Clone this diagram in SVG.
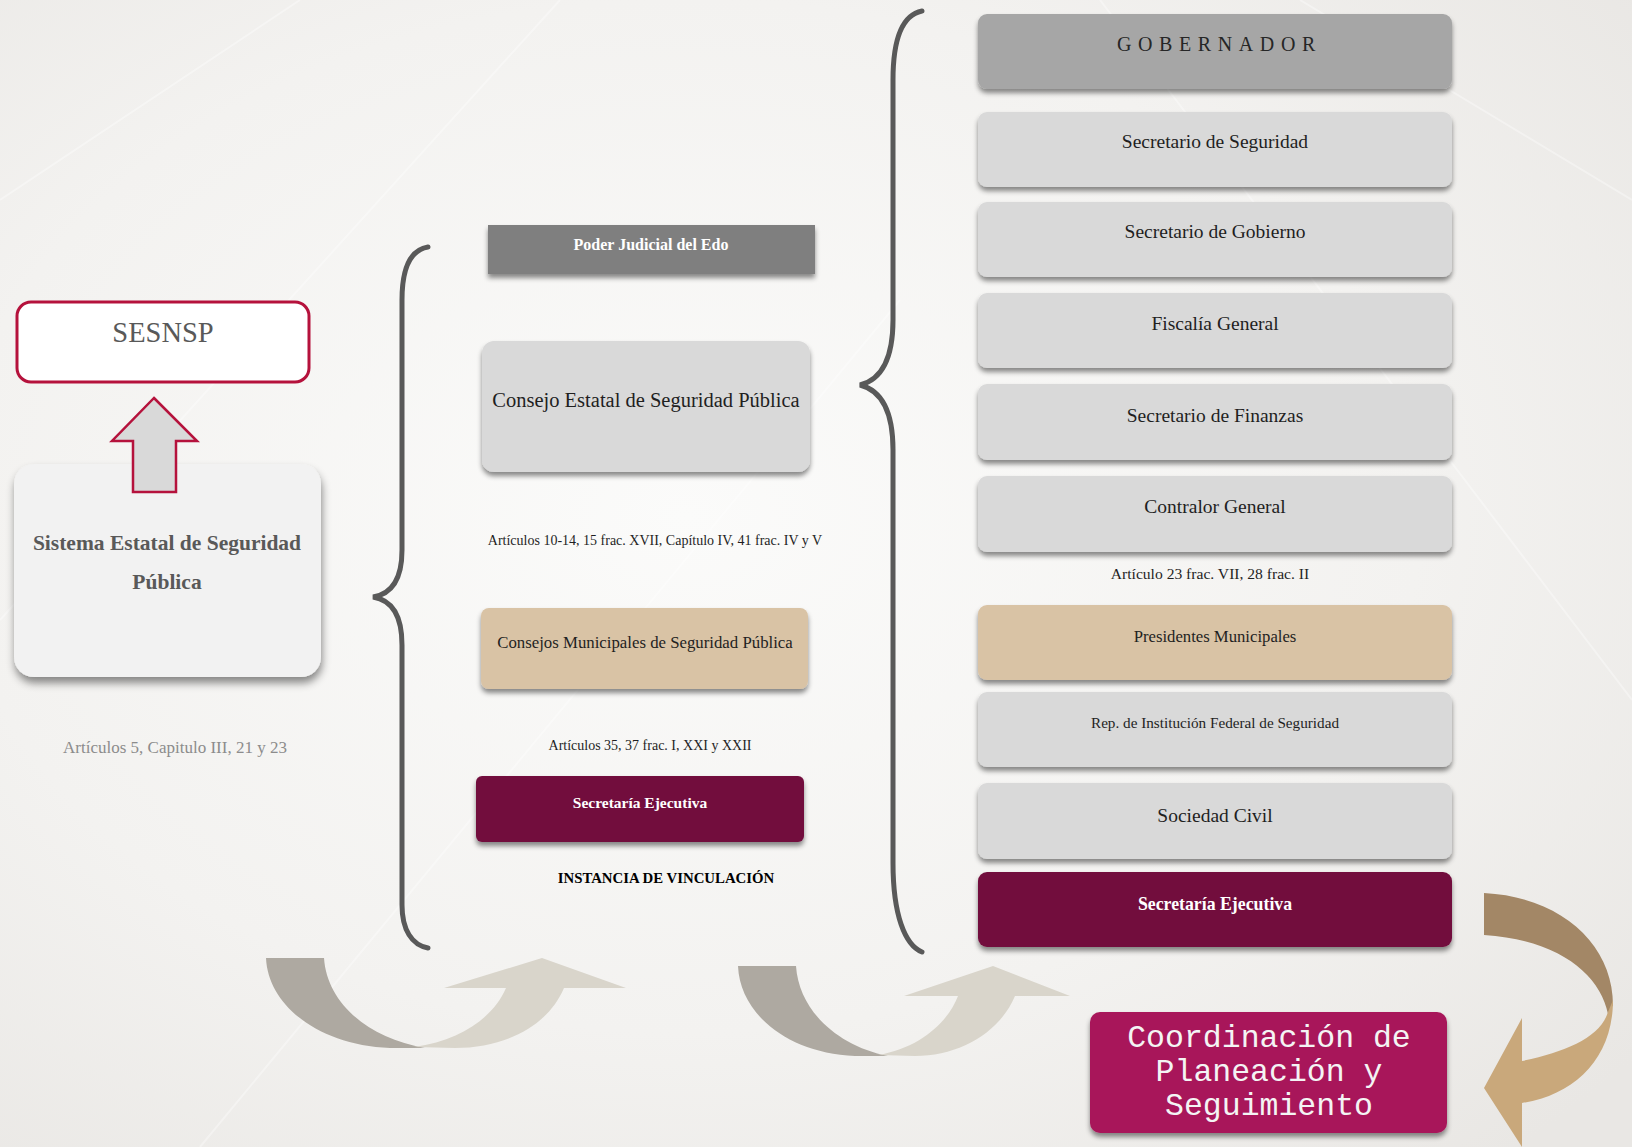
<svg xmlns="http://www.w3.org/2000/svg" width="1632" height="1147" viewBox="0 0 1632 1147">
  <defs>
    <radialGradient id="bg" cx="0.42" cy="0.45" r="0.75">
      <stop offset="0" stop-color="#fbfbfa"/>
      <stop offset="0.6" stop-color="#f3f2f0"/>
      <stop offset="1" stop-color="#e9e7e4"/>
    </radialGradient>
    <filter id="sh" x="-10%" y="-20%" width="120%" height="150%">
      <feDropShadow dx="0" dy="4" stdDeviation="2.5" flood-color="#000" flood-opacity="0.45"/>
    </filter>
    <filter id="shb" x="-10%" y="-10%" width="125%" height="125%">
      <feDropShadow dx="1" dy="6" stdDeviation="4" flood-color="#000" flood-opacity="0.45"/>
    </filter>
    <style>
      .t { font-family: "Liberation Serif", "Times New Roman", serif; fill: #1f1f1f; text-anchor: middle; }
      .b { font-weight: bold; }
      .w { fill: #ffffff; }
      .grey { fill: #d9d9d9; }
      .tan { fill: #d9c3a5; }
      .maroon { fill: #72103e; }
      .brace { fill: none; stroke: #595959; stroke-width: 5; stroke-linecap: round; }
      .mono { font-family: "Liberation Mono", "Courier New", monospace; fill: #f4f4f4; font-size: 31.5px; text-anchor: middle; }
    </style>
  </defs>

  <rect x="0" y="0" width="1632" height="1147" fill="url(#bg)"/>
  <g opacity="0.35" fill="none" stroke="#ffffff" stroke-width="2">
    <path d="M0,200 L300,0 M0,620 L560,0 M200,1147 L900,300 M1632,200 L1300,0 M1632,700 L1100,0"/>
  </g>

  <!-- Left column -->
  <g id="sesnsp">
    <rect x="17" y="302" width="292" height="80" rx="14" fill="#ffffff" stroke="#b5123c" stroke-width="3"/>
    <text class="t" x="163" y="342" font-size="28.5" fill="#595959" style="fill:#595959">SESNSP</text>
  </g>

  <g id="sistema">
    <rect x="14" y="464" width="307" height="213" rx="20" fill="#f2f2f2" filter="url(#shb)"/>
    <text class="t b" x="167" y="550" font-size="21.5" style="fill:#595959">Sistema Estatal de Seguridad</text>
    <text class="t b" x="167" y="589" font-size="21.5" style="fill:#595959">Pública</text>
  </g>

  <g id="up-arrow">
    <path d="M154,398 L197,441 L176,441 L176,492 L133,492 L133,441 L112,441 Z" fill="#d9d9d9" stroke="#b5123c" stroke-width="2.5" stroke-linejoin="miter"/>
  </g>

  <text id="art-left" class="t" x="175" y="753" font-size="17" style="fill:#8c8c8c">Artículos 5, Capitulo III, 21 y 23</text>

  <!-- Middle column -->
  <g id="poder-judicial">
    <rect x="488" y="225" width="327" height="49" fill="#7f7f7f" filter="url(#sh)"/>
    <text class="t b w" x="651" y="250" font-size="16">Poder Judicial del Edo</text>
  </g>

  <g id="consejo-estatal">
    <rect class="grey" x="482" y="341" width="328" height="131" rx="12" filter="url(#sh)"/>
    <text class="t" x="646" y="407" font-size="20.5">Consejo Estatal de Seguridad Pública</text>
  </g>

  <text id="art-mid-1" class="t" x="655" y="545" font-size="14">Artículos 10-14, 15 frac. XVII, Capítulo IV, 41 frac. IV y V</text>

  <g id="consejos-municipales">
    <rect class="tan" x="481" y="608" width="327" height="81" rx="8" filter="url(#sh)"/>
    <text class="t" x="645" y="648" font-size="16.8">Consejos Municipales de Seguridad Pública</text>
  </g>

  <text id="art-mid-2" class="t" x="650" y="750" font-size="14">Artículos 35, 37 frac. I, XXI y XXII</text>

  <g id="sec-ejecutiva-mid">
    <rect class="maroon" x="476" y="776" width="328" height="66" rx="6" filter="url(#sh)"/>
    <text class="t b w" x="640" y="808" font-size="15.5">Secretaría Ejecutiva</text>
  </g>

  <text id="instancia" class="t b" x="666" y="883" font-size="14.8" style="fill:#000">INSTANCIA DE VINCULACIÓN</text>

  <!-- Right column -->
  <g id="gobernador">
    <rect x="978" y="14" width="474" height="75" rx="9" fill="#a6a6a6" filter="url(#sh)"/>
    <text class="t" x="1117" y="51" font-size="20" letter-spacing="6.6" style="text-anchor:start;fill:#262626">GOBERNADOR</text>
  </g>
  <g id="sec-seguridad">
    <rect class="grey" x="978" y="112" width="474" height="75" rx="9" filter="url(#sh)"/>
    <text class="t" x="1215" y="148" font-size="19.5">Secretario de Seguridad</text>
  </g>
  <g id="sec-gobierno">
    <rect class="grey" x="978" y="202" width="474" height="75" rx="9" filter="url(#sh)"/>
    <text class="t" x="1215" y="238" font-size="19.5">Secretario de Gobierno</text>
  </g>
  <g id="fiscalia">
    <rect class="grey" x="978" y="293" width="474" height="75" rx="9" filter="url(#sh)"/>
    <text class="t" x="1215" y="330" font-size="19.5">Fiscalía General</text>
  </g>
  <g id="sec-finanzas">
    <rect class="grey" x="978" y="384" width="474" height="76" rx="9" filter="url(#sh)"/>
    <text class="t" x="1215" y="422" font-size="19.5">Secretario de Finanzas</text>
  </g>
  <g id="contralor">
    <rect class="grey" x="978" y="476" width="474" height="76" rx="9" filter="url(#sh)"/>
    <text class="t" x="1215" y="513" font-size="19.5">Contralor General</text>
  </g>

  <text id="art-right" class="t" x="1210" y="579" font-size="15.6">Artículo 23 frac. VII, 28 frac. II</text>

  <g id="presidentes">
    <rect class="tan" x="978" y="605" width="474" height="75" rx="9" filter="url(#sh)"/>
    <text class="t" x="1215" y="642" font-size="16.7">Presidentes Municipales</text>
  </g>
  <g id="rep-federal">
    <rect class="grey" x="978" y="692" width="474" height="75" rx="9" filter="url(#sh)"/>
    <text class="t" x="1215" y="728" font-size="15.2">Rep. de Institución Federal de Seguridad</text>
  </g>
  <g id="sociedad-civil">
    <rect class="grey" x="978" y="783" width="474" height="76" rx="9" filter="url(#sh)"/>
    <text class="t" x="1215" y="822" font-size="19.5">Sociedad Civil</text>
  </g>
  <g id="sec-ejecutiva-right">
    <rect class="maroon" x="978" y="872" width="474" height="75" rx="9" filter="url(#sh)"/>
    <text class="t b w" x="1215" y="910" font-size="17.8">Secretaría Ejecutiva</text>
  </g>

  <g id="coordinacion">
    <rect x="1090" y="1012" width="357" height="121" rx="10" fill="#a8175a" filter="url(#sh)"/>
    <text class="mono" x="1269" y="1047">Coordinación de</text>
    <text class="mono" x="1269" y="1081">Planeación y</text>
    <text class="mono" x="1269" y="1115">Seguimiento</text>
  </g>

  <!-- Connectors: braces and flow arrows -->
  <g id="connectors">
    <path class="brace" d="M428,247 C410,250 402,270 402,300 L402,550 C402,578 392,594 373,597 C392,600 402,616 402,645 L402,905 C402,930 412,945 428,948"/>
    <path class="brace" d="M922,11 C902,15 893,40 893,80 L893,320 C893,360 880,380 860,385 C880,390 893,410 893,450 L893,863 C893,915 905,945 922,952"/>

    <path d="M266,958 L324,958 C327,1003 368,1038 425,1048 L390,1048 C318,1045 268,1005 266,958 Z" fill="#aea9a1"/>
    <path d="M414,1047 C463,1040 494,1016 506,988 L444,988 L542,958 L626,988 L564,988 C548,1026 505,1048 455,1048 Z" fill="#d9d5cb"/>

    <path d="M738,966 L796,966 C799,1011 838,1046 888,1056 L855,1056 C786,1053 740,1013 738,966 Z" fill="#aea9a1"/>
    <path d="M878,1055 C920,1048 948,1022 958,996 L904,996 L993,966 L1070,996 L1015,996 C1000,1032 960,1056 915,1056 Z" fill="#d9d5cb"/>

    <path d="M1484,893 C1562,897 1613,945 1613,1005 L1608,1014 C1600,975 1560,940 1484,935 Z" fill="#a38766"/>
    <path d="M1613,1000 C1613,1058 1575,1095 1522,1103 L1522,1147 L1484,1088 L1522,1018 L1522,1061 C1565,1052 1600,1038 1608,1012 Z" fill="#c9a87b"/>
  </g>
</svg>
